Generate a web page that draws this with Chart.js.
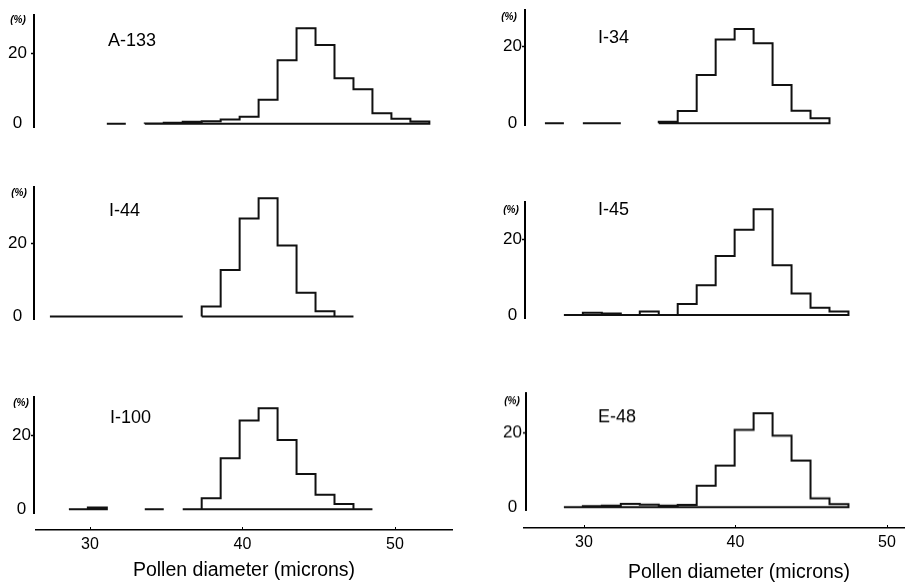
<!DOCTYPE html>
<html>
<head>
<meta charset="utf-8">
<script src="https://cdn.jsdelivr.net/npm/chart.js@4.4.1/dist/chart.umd.min.js"></script>
<style>
html, body { margin: 0; padding: 0; background: #fff; width: 905px; height: 585px; overflow: hidden; position: relative; }
canvas { position: absolute; }
</style>
</head>
<body>
<script>
// ---------- DATA ----------
// histogram bin edges (microns); bin k spans binEdges[k]..binEdges[k+1]
const binEdges = [27.38, 28.62, 29.86, 31.10, 32.34, 33.58, 34.82, 36.06, 37.30, 38.54, 39.78,
                  41.02, 42.26, 43.50, 44.74, 45.98, 47.22, 48.46, 49.70, 50.94, 52.18];
const panelNames = ['A-133', 'I-34', 'I-44', 'I-45', 'I-100', 'E-48'];
// percent frequency per bin (null = no class drawn)
const valuesA133 = [null, null, null, 0, null, 0.1, 0.3, 0.6, 0.7, 1.2, 2.0, 6.8, 18.0, 27.0, 22.3, 12.9, 9.8, 3.0, 1.4, 0.65];
const valuesI34  = [0, null, 0, 0, null, null, 0.4, 3.2, 12.6, 21.9, 24.6, 20.9, 10.0, 3.3, 1.3, null, null, null, null, null];
const valuesI44  = [0, 0, 0, 0, 0, 0, 0, null, 2.7, 12.7, 26.8, 32.3, 19.4, 6.5, 1.4, 0, null, null, null, null];
const valuesI45  = [null, 0, 0.6, 0.4, 0, 0.9, 0, 2.9, 7.9, 15.6, 22.6, 28.0, 13.2, 5.7, 1.9, 0.9, null, null, null, null];
const valuesI100 = [null, 0, 0.5, null, null, 0, null, 0, 3.0, 13.8, 24.0, 27.3, 18.7, 9.5, 3.9, 1.4, 0, null, null, null];
const valuesE48  = [null, 0, 0.3, 0.4, 0.9, 0.7, 0.45, 0.6, 5.8, 11.2, 20.9, 25.4, 19.3, 12.6, 2.4, 0.8, null, null, null, null];
const yTickValues = [0, 20];
const xTickValues = [30, 40, 50];
const yUnitLabel = '(%)';
const xAxisTitle = 'Pollen diameter (microns)';

// ---------- LAYOUT (pixels in the 905x585 page) ----------
const panels = [
  { name: panelNames[0], values: valuesA133, canvasLeft: 0,   canvasRight: 455, axisX: 34,  top: 15,    bottom: 128, zeroY: 124,   twentyY: 53,    px30: 90,  slope: 15.3, labelCx: 17.5, pct: [18, 20],  label: [108, 46] },
  { name: panelNames[1], values: valuesI34,  canvasLeft: 490, canvasRight: 905, axisX: 525, top: 10,    bottom: 125, zeroY: 123.3, twentyY: 46.7,  px30: 585, slope: 15.3, labelCx: 513.5, pct: [509, 17], label: [598, 43] },
  { name: panelNames[2], values: valuesI44,  canvasLeft: 0,   canvasRight: 455, axisX: 34,  top: 187,   bottom: 320, zeroY: 316.7, twentyY: 243.3, px30: 90,  slope: 15.3, labelCx: 17.5, pct: [19, 193], label: [109, 216] },
  { name: panelNames[3], values: valuesI45,  canvasLeft: 490, canvasRight: 905, axisX: 525, top: 201.7, bottom: 318, zeroY: 315,   twentyY: 239.3, px30: 585, slope: 15.3, labelCx: 513.5, pct: [511, 210], label: [598, 215] },
  { name: panelNames[4], values: valuesI100, canvasLeft: 0,   canvasRight: 455, axisX: 34,  top: 396.7, bottom: 513, zeroY: 509.3, twentyY: 435,   px30: 90,  slope: 15.3, labelCx: 22.5, pct: [21, 403], label: [110, 423] },
  { name: panelNames[5], values: valuesE48,  canvasLeft: 490, canvasRight: 905, axisX: 526, top: 393.3, bottom: 510, zeroY: 507.3, twentyY: 433.3, px30: 585, slope: 15.3, labelCx: 512.5, pct: [512, 402], label: [598, 422] }
];
const axes = [
  { canvasLeft: 35,  canvasRight: 453, lineY: 530, px30: 90,  slope: 15.25, titlePad: 3 },
  { canvasLeft: 523, canvasRight: 955, lineY: 528, px30: 584, slope: 15.15, titlePad: 1 }
];

const FONT = 'Liberation Sans, Arial, sans-serif';
const YTICK_SIZE = 17;
const TICK_LEN = 3;
const PADV = 14;

// measure widest y tick label to center labels at a given x
const measureCtx = document.createElement('canvas').getContext('2d');
measureCtx.font = YTICK_SIZE + 'px ' + FONT;
const widestY = Math.max(...yTickValues.map(v => measureCtx.measureText(String(v)).width));

// text overlay plugin
const textPlugin = {
  id: 'panelText',
  afterDraw(chart, args, opts) {
    const ctx = chart.ctx;
    (opts.items || []).forEach(it => {
      ctx.save();
      ctx.font = it.font;
      ctx.fillStyle = '#000';
      ctx.textAlign = it.align || 'left';
      ctx.textBaseline = it.baseline || 'alphabetic';
      ctx.fillText(it.text, it.x, it.y);
      ctx.restore();
    });
  }
};

function outlinePoints(values) {
  const pts = [];
  let i = 0;
  while (i < values.length) {
    if (values[i] === null) { i++; continue; }
    const a = i;
    while (i < values.length && values[i] !== null) i++;
    const b = i - 1;
    pts.push({ x: binEdges[a], y: 0 });
    for (let k = a; k <= b; k++) {
      pts.push({ x: binEdges[k], y: values[k] });
      pts.push({ x: binEdges[k + 1], y: values[k] });
    }
    pts.push({ x: binEdges[b + 1], y: 0 });
    pts.push({ x: binEdges[a], y: 0 });
    pts.push({ x: binEdges[a], y: null });
  }
  return pts;
}

function makeCanvas(left, top, width, height) {
  const c = document.createElement('canvas');
  c.width = width; c.height = height;
  c.style.left = left + 'px'; c.style.top = top + 'px';
  c.style.width = width + 'px'; c.style.height = height + 'px';
  document.body.appendChild(c);
  return c;
}

panels.forEach(p => {
  const cTop = p.top - PADV;
  const cH = (p.bottom - p.top) + 2 * PADV;
  const cW = p.canvasRight - p.canvasLeft;
  const ppu = (p.zeroY - p.twentyY) / 20;
  const yMin = -(p.bottom - p.zeroY) / ppu;
  const yMax = (p.zeroY - p.top) / ppu;
  const xMin = 30 + (p.axisX - p.px30) / p.slope;
  const xMax = 30 + (p.canvasRight - p.px30) / p.slope;
  const tickPad = Math.max(0, p.axisX - p.labelCx - TICK_LEN - widestY / 2);
  const canvas = makeCanvas(p.canvasLeft, cTop, cW, cH);
  new Chart(canvas, {
    type: 'line',
    data: {
      datasets: [{
        data: outlinePoints(p.values),
        borderColor: '#111',
        borderWidth: 2,
        pointRadius: 0,
        fill: false,
        tension: 0,
        spanGaps: false
      }]
    },
    options: {
      responsive: false,
      animation: false,
      events: [],
      layout: { padding: { top: PADV, bottom: PADV, left: 0, right: 0 } },
      scales: {
        x: { type: 'linear', display: false, min: xMin, max: xMax },
        y: {
          type: 'linear', min: yMin, max: yMax,
          afterBuildTicks: s => { s.ticks = yTickValues.map(v => ({ value: v })); },
          afterFit: s => { s.width = p.axisX - p.canvasLeft; },
          ticks: { color: '#000', font: { family: FONT, size: YTICK_SIZE }, padding: tickPad, crossAlign: 'center' },
          grid: {
            display: true, drawOnChartArea: false, drawTicks: true, tickLength: TICK_LEN,
            tickColor: c => (c.tick && c.tick.value === 20 ? '#000' : 'rgba(0,0,0,0)'), tickWidth: 1.5
          },
          border: { display: true, color: '#000', width: 2 }
        }
      },
      plugins: {
        legend: { display: false },
        tooltip: { enabled: false },
        panelText: {
          items: [
            { text: p.name, x: p.label[0] - p.canvasLeft, y: p.label[1] - cTop, font: '18px ' + FONT },
            { text: yUnitLabel, x: p.pct[0] - p.canvasLeft, y: p.pct[1] - cTop, font: 'italic bold 10px ' + FONT, align: 'center', baseline: 'middle' }
          ]
        }
      }
    },
    plugins: [textPlugin]
  });
});

axes.forEach(a => {
  const cTop = a.lineY - 10;
  const cH = 585 - cTop;
  const cW = a.canvasRight - a.canvasLeft;
  const xMin = 30 + (a.canvasLeft - a.px30) / a.slope;
  const xMax = 30 + (a.canvasRight - a.px30) / a.slope;
  const canvas = makeCanvas(a.canvasLeft, cTop, cW, cH);
  new Chart(canvas, {
    type: 'line',
    data: { datasets: [] },
    options: {
      responsive: false,
      animation: false,
      events: [],
      layout: { padding: { top: 7, bottom: 0, left: 0, right: 0 } },
      scales: {
        x: {
          type: 'linear', position: 'bottom', min: xMin, max: xMax,
          afterBuildTicks: s => { s.ticks = xTickValues.map(v => ({ value: v })); },
          afterFit: s => { s.height = cH - 10; },
          ticks: { color: '#000', font: { family: FONT, size: 16 }, padding: 5, maxRotation: 0 },
          grid: { display: true, drawOnChartArea: true, drawTicks: false, color: '#000', lineWidth: 1 },
          border: { display: true, color: '#000', width: 1.5 },
          title: { display: true, text: xAxisTitle, color: '#000', font: { family: FONT, size: 19.5 }, padding: { top: 0, bottom: a.titlePad } }
        },
        y: { display: false, min: 0, max: 1 }
      },
      plugins: { legend: { display: false }, tooltip: { enabled: false } }
    }
  });
});
</script>
</body>
</html>
